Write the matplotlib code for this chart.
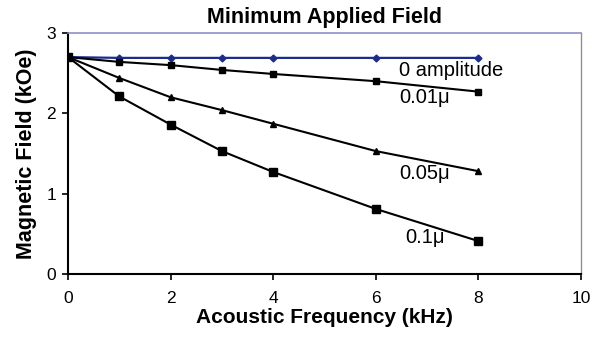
import matplotlib
matplotlib.use("Agg")
import matplotlib.pyplot as plt

plt.rcParams['font.family'] = ['Liberation Sans', 'DejaVu Sans']

# data (kHz, kOe)
freq = [0, 1, 2, 3, 4, 6, 8]
field_0 = [2.70, 2.69, 2.69, 2.69, 2.69, 2.69, 2.69]
field_001 = [2.70, 2.64, 2.60, 2.54, 2.49, 2.40, 2.27]
field_005 = [2.70, 2.44, 2.20, 2.04, 1.87, 1.53, 1.28]
field_01 = [2.70, 2.21, 1.86, 1.53, 1.27, 0.81, 0.41]

labels = ["0 amplitude", "0.01\u03bc", "0.05\u03bc", "0.1\u03bc"]
label_pos = [(6.45, 2.53), (6.45, 2.2), (6.45, 1.25), (6.57, 0.46)]

fig = plt.figure(figsize=(5.92, 3.39), dpi=100)
ax = fig.add_axes([0.1149, 0.1917, 0.8665, 0.7110])

navy = "#1c2c8c"
ax.plot(freq, field_0, color=navy, lw=1.6, marker="D", ms=3.5, zorder=3)
ax.plot(freq, field_001, color="black", lw=1.5, marker="s", ms=4, zorder=3)
ax.plot(freq, field_005, color="black", lw=1.5, marker="^", ms=4.5, zorder=3)
ax.plot(freq, field_01, color="black", lw=1.5, marker="s", ms=5.7, zorder=3)

for txt, (x, y) in zip(labels, label_pos):
    ax.text(x, y, txt, fontsize=14.5, ha="left", va="center")

ax.set_xlim(0, 10)
ax.set_ylim(0, 3)
ax.set_xticks([0, 2, 4, 6, 8, 10])
ax.set_yticks([0, 1, 2, 3])
ax.tick_params(direction="out", length=4, width=1.2, labelsize=12.5)
ax.tick_params(axis="x", pad=8)
ax.tick_params(axis="y", pad=4.5)

ax.spines["left"].set_linewidth(1.5)
ax.spines["bottom"].set_linewidth(1.5)
ax.spines["top"].set_color("#9090c8")
ax.spines["top"].set_linewidth(1.2)
ax.spines["right"].set_color("#909090")
ax.spines["right"].set_linewidth(1.0)

ax.set_title("Minimum Applied Field", fontsize=15.5, fontweight="bold", pad=7.5)
ax.set_xlabel("Acoustic Frequency (kHz)", fontsize=15, fontweight="bold", labelpad=1.5)
ax.set_ylabel("Magnetic Field (kOe)", fontsize=15.5, fontweight="bold", labelpad=7)

fig.savefig("out.png", dpi=100)
